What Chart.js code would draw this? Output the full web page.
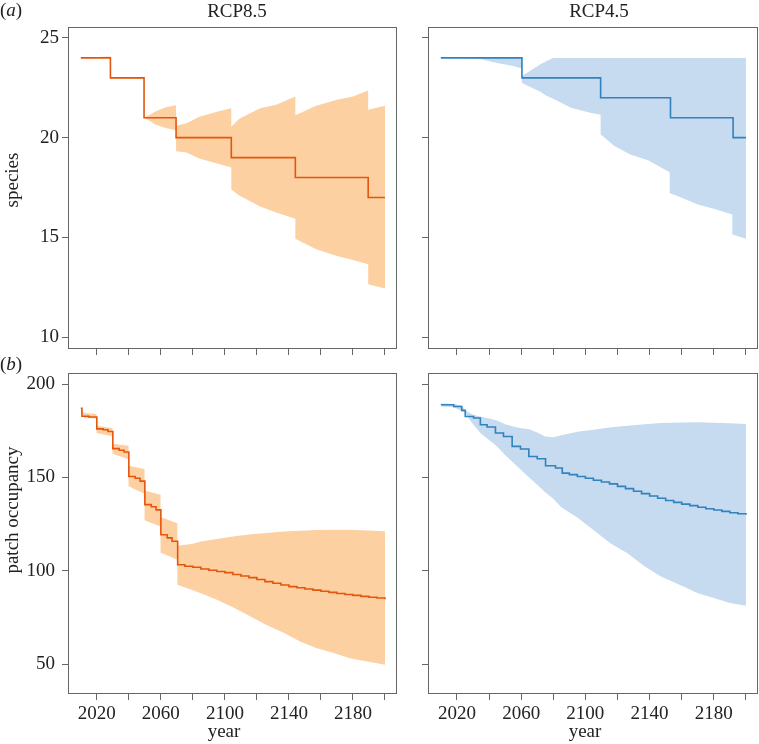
<!DOCTYPE html>
<html>
<head>
<meta charset="utf-8">
<script src="https://cdn.jsdelivr.net/npm/chart.js@4/dist/chart.umd.min.js"></script>
<style>
body { margin: 0; background: #fff; width: 759px; height: 744px; overflow: hidden; position: relative; font-family: "Liberation Serif", serif; color: #222; }
canvas { position: absolute; }
.lbl { position: absolute; font-size: 19px; line-height: 19px; white-space: nowrap; transform: translate(-50%, -50%); }
.rot { transform: translate(-50%, -50%) rotate(-90deg); }
</style>
</head>
<body>
<canvas id="sp85" width="400" height="365" style="left:0;top:0"></canvas>
<canvas id="sp45" width="359" height="365" style="left:400px;top:0"></canvas>
<canvas id="pa85" width="400" height="379" style="left:0;top:365px"></canvas>
<canvas id="pa45" width="359" height="379" style="left:400px;top:365px"></canvas>

<div class="lbl" style="left:11px;top:9px">(<i>a</i>)</div>
<div class="lbl" style="left:11px;top:363px">(<i>b</i>)</div>
<div class="lbl" style="left:237px;top:10px">RCP8.5</div>
<div class="lbl" style="left:599px;top:10px">RCP4.5</div>
<div class="lbl rot" style="left:11px;top:180px">species</div>
<div class="lbl rot" style="left:11px;top:510px">patch occupancy</div>
<div class="lbl" style="left:224px;top:730px">year</div>
<div class="lbl" style="left:585px;top:730px">year</div>

<script>
// axis ticks
const xTickYears = [2020, 2040, 2060, 2080, 2100, 2120, 2140, 2160, 2180, 2200];
const xLabelYears = [2020, 2060, 2100, 2140, 2180];
const speciesTicks = [10, 15, 20, 25];
const patchTicks = [50, 100, 150, 200];

// (a) species, RCP8.5
const sp85MedYears = [2010, 2028.5, 2049.5, 2069.5, 2104, 2144, 2189.5, 2200];
const sp85Median = [24, 23, 21, 20, 19, 18, 17, 17];
const sp85BandYears = [2010, 2020, 2028.5, 2028.5, 2040, 2049.5, 2049.5, 2057, 2063, 2069.5, 2069.5, 2076, 2084, 2095, 2104, 2104, 2109, 2122, 2132, 2144, 2144, 2157, 2170, 2180, 2189.5, 2189.5, 2200];
const sp85Low = [24, 24, 24, 22.97, 22.97, 22.95, 21.0, 20.65, 20.48, 20.37, 19.32, 19.25, 18.95, 18.7, 18.5, 17.4, 17.1, 16.55, 16.25, 15.93, 14.93, 14.4, 14.07, 13.87, 13.65, 12.65, 12.43];
const sp85High = [24, 24.03, 24.08, 23.0, 23.02, 23.05, 21.0, 21.32, 21.53, 21.63, 20.6, 20.72, 21.05, 21.3, 21.48, 20.55, 20.95, 21.48, 21.65, 22.07, 21.12, 21.6, 21.9, 22.07, 22.37, 21.4, 21.6];

// (a) species, RCP4.5
const sp45MedYears = [2010, 2060.5, 2109.5, 2153, 2192, 2200];
const sp45Median = [24, 23, 22, 21, 20, 20];
const sp45BandYears = [2010, 2030, 2035, 2045, 2055, 2060.5, 2060.5, 2064, 2072, 2076, 2080, 2091, 2103, 2109.5, 2109.5, 2118, 2128, 2139, 2152.5, 2152.5, 2160, 2170, 2180, 2191.5, 2191.5, 2200];
const sp45Low = [24, 23.98, 23.93, 23.75, 23.6, 23.47, 22.75, 22.6, 22.3, 22.09, 21.95, 21.5, 21.25, 21.15, 20.17, 19.58, 19.16, 18.87, 18.27, 17.23, 16.98, 16.65, 16.43, 16.15, 15.14, 14.93];
const sp45High = [24, 24, 24, 24, 24, 24, 23.1, 23.27, 23.68, 23.85, 24, 24, 24, 24, 24, 24, 24, 24, 24, 24, 24, 24, 24, 24, 24, 24];

// (b) patch occupancy, RCP8.5
const pa85MedYears = [2010, 2010.7, 2015, 2020, 2024, 2027, 2030, 2034, 2037, 2040, 2044, 2047, 2050, 2054, 2057, 2060, 2064, 2067, 2070.5, 2075, 2080, 2085, 2090, 2095, 2100, 2105, 2110, 2115, 2120, 2125, 2130, 2135, 2140, 2145, 2150, 2155, 2160, 2165, 2170, 2175, 2180, 2185, 2190, 2195, 2200];
const pa85Median = [187, 182.7, 182.3, 176, 175.5, 174.6, 165.4, 164.5, 163.6, 150.5, 149.5, 148, 135.4, 134.3, 132.6, 119.3, 117.6, 115.8, 103.2, 102.4, 101.9, 100.9, 100.3, 99.6, 99, 98, 97.2, 96.3, 95.3, 94.2, 93.3, 92.4, 91.5, 90.9, 90.2, 89.6, 89, 88.4, 87.8, 87.3, 86.8, 86.3, 85.8, 85.4, 84.8];
const pa85BandYears = [2010, 2012, 2019.8, 2019.8, 2029.8, 2029.8, 2039.8, 2039.8, 2049.8, 2049.8, 2059.8, 2059.8, 2070.3, 2070.3, 2080, 2085, 2095, 2105, 2116, 2126, 2137, 2147, 2157, 2168, 2178, 2189, 2200];
const pa85Low = [186.5, 181.8, 181.5, 173.75, 172, 162.7, 159.8, 145.2, 141.25, 127, 123.75, 109.8, 105.9, 92.5, 89.5, 88, 84.5, 80.5, 75.5, 71, 66.6, 62.1, 58.6, 55.9, 53.2, 51.4, 49.6];
const pa85High = [187.5, 184.5, 184, 177.7, 176.4, 168, 167, 156.25, 154.5, 143, 140.7, 128.75, 125.5, 113.4, 114.5, 115.7, 117, 118.4, 119.5, 120.2, 121, 121.4, 121.8, 122, 121.9, 121.6, 121.1];

// (b) patch occupancy, RCP4.5
const pa45MedYears = [2010, 2018, 2023, 2025.2, 2030.4, 2034.6, 2038.8, 2044, 2049, 2054.4, 2059.6, 2064.8, 2070, 2075.2, 2081.4, 2085.6, 2090, 2095, 2100, 2105, 2110, 2115, 2120, 2125, 2130, 2135, 2140, 2145, 2150, 2155, 2160, 2165, 2170, 2175, 2180, 2185, 2190, 2195, 2200];
const pa45Median = [188.9, 188, 185.9, 182.6, 181.8, 178.2, 177, 173.75, 171.9, 166.6, 165.2, 161.2, 160, 156.2, 155, 152.3, 151.5, 150.5, 149.5, 148.5, 147.5, 146.5, 145.2, 144, 142.6, 141.3, 140, 138.8, 137.6, 136.6, 135.7, 134.9, 134, 133.2, 132.5, 131.8, 131.1, 130.5, 130];
const pa45BandYears = [2010, 2018, 2023, 2025, 2030, 2035, 2040, 2045, 2050, 2055, 2060, 2065, 2070, 2075, 2080, 2085, 2095, 2105, 2116, 2126, 2137, 2147, 2160, 2170, 2180, 2190, 2200];
const pa45Low = [188, 187.5, 185.5, 184.5, 178.5, 173.5, 170, 166.5, 162, 158, 154, 150, 146, 142, 138.5, 134, 128.5, 121.8, 114.5, 109.5, 102.3, 96.9, 92, 88, 85.4, 82.7, 81.2];
const pa45High = [189.5, 189.3, 188.5, 186, 183.5, 182.5, 181.5, 180.5, 178.5, 177.3, 176.3, 175.8, 174, 171.9, 171.5, 172.5, 174.5, 175.5, 176.8, 177.7, 178.5, 179.1, 179.4, 179.5, 179.3, 179, 178.6];

const orange = { line: '#e6550d', fill: '#fdd0a2' };
const blue = { line: '#3182bd', fill: '#c6dbef' };
const axisColor = '#666';
const tickFont = { family: 'Liberation Serif', size: 19 };

function pts(xs, ys) {
    return xs.map((x, i) => ({ x: x, y: ys[i] }));
}

// full box round the plot area
const framePlugin = {
    id: 'frame',
    afterDatasetsDraw(chart) {
        const { ctx, chartArea: a } = chart;
        ctx.save();
        ctx.strokeStyle = axisColor;
        ctx.lineWidth = 1;
        ctx.strokeRect(Math.round(a.left) + 0.5, Math.round(a.top) + 0.5, Math.round(a.right - a.left) - 1, Math.round(a.bottom - a.top) - 1);
        ctx.restore();
    }
};

function makePanel(id, p) {
    new Chart(document.getElementById(id), {
        type: 'line',
        data: {
            datasets: [
                { data: pts(p.medYears, p.median), borderColor: p.colors.line, borderWidth: 1.6, pointRadius: 0, stepped: true, fill: false },
                { data: pts(p.bandYears, p.low), borderColor: 'transparent', borderWidth: 0, pointRadius: 0, fill: false },
                { data: pts(p.bandYears, p.high), borderColor: 'transparent', borderWidth: 0, pointRadius: 0, fill: '-1', backgroundColor: p.colors.fill }
            ]
        },
        options: {
            responsive: false,
            animation: false,
            events: [],
            layout: { padding: { top: p.padTop, right: p.padRight, left: 0, bottom: 0 } },
            plugins: { legend: { display: false }, tooltip: { enabled: false } },
            scales: {
                x: {
                    type: 'linear', min: 2002, max: 2207.5,
                    afterBuildTicks: s => { s.ticks = xTickYears.map(v => ({ value: v })); },
                    afterFit: s => { s.height = p.xHeight; s.paddingLeft = 0; s.paddingRight = 0; },
                    border: { display: false },
                    grid: { drawOnChartArea: false, drawTicks: true, tickLength: 6, color: axisColor },
                    ticks: {
                        autoSkip: false, maxRotation: 0, padding: 2.5, color: '#222', font: tickFont,
                        callback: v => (p.xLabels && xLabelYears.includes(v)) ? String(v) : ''
                    }
                },
                y: {
                    type: 'linear', min: p.yMin, max: p.yMax,
                    afterBuildTicks: s => { s.ticks = p.yTicks.map(v => ({ value: v })); },
                    afterFit: s => { s.width = p.yWidth; s.paddingTop = 0; s.paddingBottom = 0; },
                    border: { display: false },
                    grid: { drawOnChartArea: false, drawTicks: true, tickLength: 6, color: axisColor },
                    ticks: {
                        autoSkip: false, padding: p.yPad, color: '#222', font: tickFont,
                        callback: v => p.yLabels ? String(v) : ''
                    }
                }
            }
        },
        plugins: [framePlugin]
    });
}

makePanel('sp85', {
    medYears: sp85MedYears, median: sp85Median, bandYears: sp85BandYears, low: sp85Low, high: sp85High,
    colors: orange, yMin: 9.4, yMax: 25.55, yTicks: speciesTicks, yLabels: true, xLabels: false,
    padTop: 27, padRight: 3, yWidth: 68, xHeight: 16, yPad: 3
});
makePanel('sp45', {
    medYears: sp45MedYears, median: sp45Median, bandYears: sp45BandYears, low: sp45Low, high: sp45High,
    colors: blue, yMin: 9.4, yMax: 25.55, yTicks: speciesTicks, yLabels: false, xLabels: false,
    padTop: 27, padRight: 1, yWidth: 28, xHeight: 16, yPad: 3
});
makePanel('pa85', {
    medYears: pa85MedYears, median: pa85Median, bandYears: pa85BandYears, low: pa85Low, high: pa85High,
    colors: orange, yMin: 34, yMax: 205.9, yTicks: patchTicks, yLabels: true, xLabels: true,
    padTop: 8, padRight: 3, yWidth: 68, xHeight: 50, yPad: 7
});
makePanel('pa45', {
    medYears: pa45MedYears, median: pa45Median, bandYears: pa45BandYears, low: pa45Low, high: pa45High,
    colors: blue, yMin: 34, yMax: 205.9, yTicks: patchTicks, yLabels: false, xLabels: true,
    padTop: 8, padRight: 1, yWidth: 28, xHeight: 50, yPad: 7
});
</script>
</body>
</html>
